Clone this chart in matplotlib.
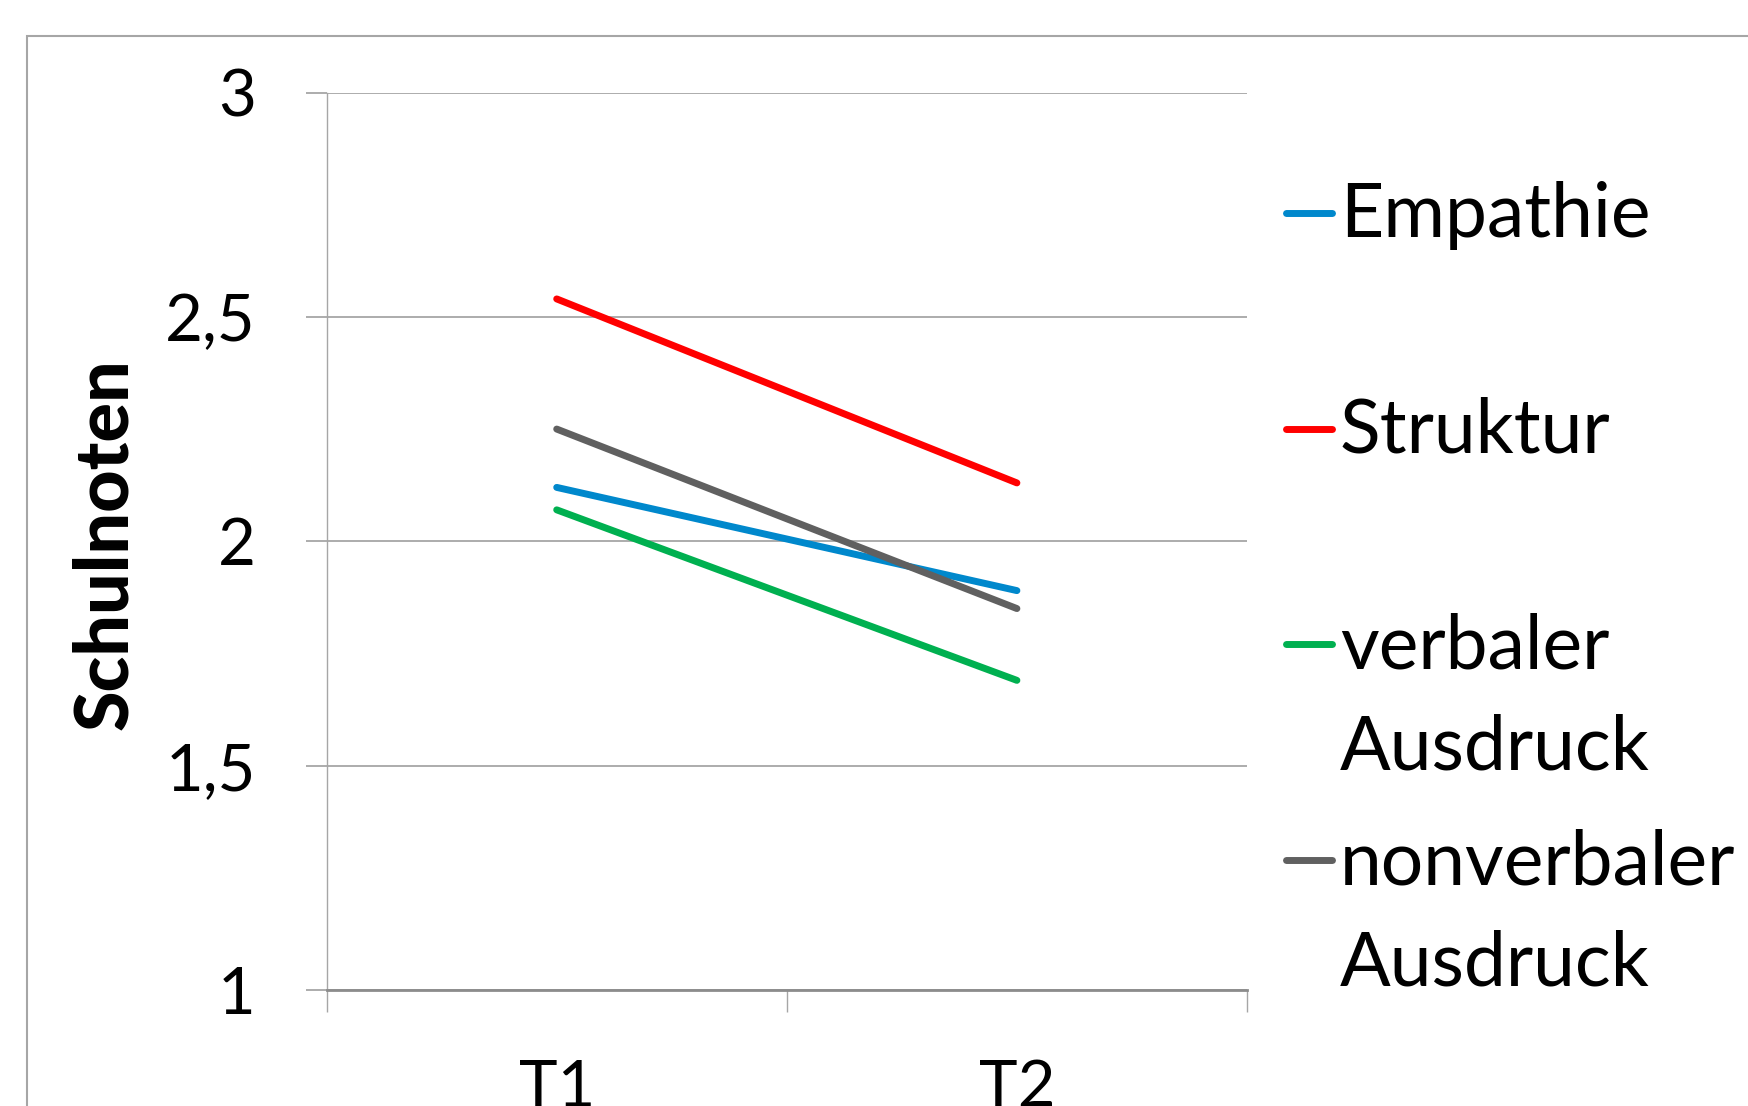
import matplotlib.pyplot as plt
from matplotlib.lines import Line2D
from matplotlib.patches import Rectangle

# Mittlere Schulnoten zu zwei Messzeitpunkten
zeitpunkte = ["T1", "T2"]
empathie = [2.12, 1.89]
struktur = [2.54, 2.13]
verbal = [2.07, 1.69]
nonverbal = [2.25, 1.85]

reihen = [
    ("Empathie", empathie, "#0088cc"),
    ("Struktur", struktur, "#ff0000"),
    ("verbaler\nAusdruck", verbal, "#00b050"),
    ("nonverbaler\nAusdruck", nonverbal, "#606060"),
]
yticks = [1, 1.5, 2, 2.5, 3]
ytick_labels = ["1", "1,5", "2", "2,5", "3"]

plt.rcParams['font.family'] = ['Lato', 'DejaVu Sans']

W, H = 1748, 1106
fig = plt.figure(figsize=(W / 100, H / 100), dpi=100)

# grauer Rahmen um das Diagramm
fig.patches.append(Rectangle((27 / W, -0.2), 1.2, 1 - 36 / H + 0.2,
                             transform=fig.transFigure, fill=False,
                             edgecolor='#a6a6a6', linewidth=1.5))

ax = fig.add_axes([326.6 / W, 1 - 990 / H, 920.4 / W, 897.5 / H])

x = list(range(len(zeitpunkte)))
for name, werte, farbe in reihen:
    ax.plot(x, werte, color=farbe, linewidth=5, solid_capstyle='round')

ax.set_xlim(-0.5, 1.5)
ax.set_ylim(1, 3)
ax.set_yticks(yticks)
ax.set_yticklabels(ytick_labels)
ax.set_xticks(x)
ax.set_xticklabels(zeitpunkte)
ax.set_xticks([-0.5, 0.5, 1.5], minor=True)
ax.grid(axis='y', color='#a6a6a6', linewidth=1.3)
ax.set_axisbelow(True)

for s in ['top', 'right']:
    ax.spines[s].set_visible(False)
ax.spines['left'].set_color('#a6a6a6')
ax.spines['left'].set_linewidth(1.0)
ax.spines['bottom'].set_color('#8c8c8c')
ax.spines['bottom'].set_linewidth(2.0)

ax.tick_params(axis='y', length=15, width=1.3, color='#a6a6a6', pad=36,
               labelsize=47)
ax.tick_params(axis='x', which='major', length=0, pad=50, labelsize=47)
ax.tick_params(axis='x', which='minor', length=16, width=1.0, color='#a6a6a6')

ax.set_ylabel("Schulnoten", fontsize=53, fontweight=900)
ax.yaxis.label.set_va('center')
ax.yaxis.set_label_coords(-0.2397, 0.497)

# Legende rechts neben der Zeichenfläche
for i, (name, werte, farbe) in enumerate(reihen):
    base = 237 + i * 215.7
    hy = 1 - (base - 24) / H
    fig.add_artist(Line2D([1286 / W, 1332 / W], [hy, hy], color=farbe,
                          linewidth=5, solid_capstyle='round',
                          transform=fig.transFigure))
    for j, zeile in enumerate(name.split("\n")):
        fig.text(1340 / W, 1 - (base + j * 101) / H, zeile, fontsize=54,
                 ha='left', va='baseline')

fig.savefig("out.png", dpi=100)
